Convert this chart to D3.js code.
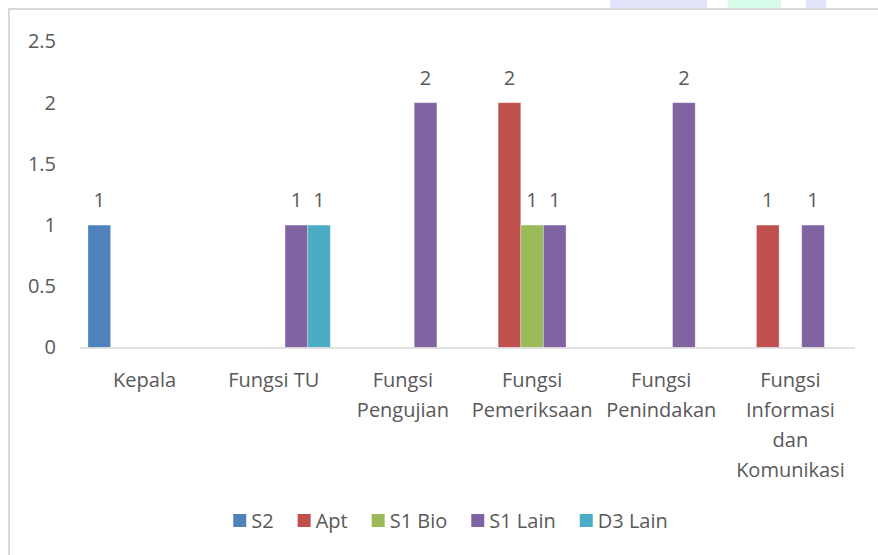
<!DOCTYPE html>
<html>
<head>
<meta charset="utf-8">
<script src="https://cdn.jsdelivr.net/npm/d3@7/dist/d3.min.js"></script>
<style>
  html, body { margin: 0; padding: 0; background: #fff; }
  svg { display: block; }
  text { font-family: "Open Sans", sans-serif; fill: #595959; }
</style>
</head>
<body>
<svg id="chart"></svg>
<script>
// Categories (each as its wrapped label lines)
const categories = ["Kepala", "Fungsi TU", "Fungsi Pengujian", "Fungsi Pemeriksaan", "Fungsi Penindakan", "Fungsi Informasi dan Komunikasi"];
const categoryLines = [
  ["Kepala"],
  ["Fungsi TU"],
  ["Fungsi", "Pengujian"],
  ["Fungsi", "Pemeriksaan"],
  ["Fungsi", "Penindakan"],
  ["Fungsi", "Informasi", "dan", "Komunikasi"]
];

// Series (null = no bar)
const seriesNames = ["S2", "Apt", "S1 Bio", "S1 Lain", "D3 Lain"];
const s2     = [1, null, null, null, null, null];
const apt    = [null, null, null, 2, null, 1];
const s1Bio  = [null, null, null, 1, null, null];
const s1Lain = [null, 1, 2, 1, 2, 1];
const d3Lain = [null, 1, null, null, null, null];
const seriesValues = [s2, apt, s1Bio, s1Lain, d3Lain];
const seriesColors = ["#4F81BD", "#C0504D", "#9BBB59", "#8064A2", "#4BACC6"];

const yTicks = [0, 0.5, 1, 1.5, 2, 2.5];

const W = 878, H = 555;
const fontSize = 20;
const svg = d3.select("#chart").attr("width", W).attr("height", H);

// Faint watermark shapes at the top edge
svg.append("rect").attr("x", 610).attr("y", 0).attr("width", 97).attr("height", 9).attr("fill", "#e2e2fa");
svg.append("rect").attr("x", 728).attr("y", 0).attr("width", 53).attr("height", 9).attr("fill", "#d6fbe9");
svg.append("rect").attr("x", 806).attr("y", 0).attr("width", 20).attr("height", 9).attr("fill", "#e2e2fa");

// Chart area border (only left and top visible)
svg.append("line").attr("x1", 9).attr("x2", 9).attr("y1", 9).attr("y2", H)
  .attr("stroke", "#d9d9d9").attr("stroke-width", 2);
svg.append("line").attr("x1", 8).attr("x2", W).attr("y1", 9).attr("y2", 9)
  .attr("stroke", "#d9d9d9").attr("stroke-width", 2);

// Plot area
const plot = { left: 80, right: 855, top: 41.5, bottom: 347.5 };

const x0 = d3.scaleBand()
  .domain(categories)
  .range([plot.left, plot.right])
  .paddingInner(0.124)
  .paddingOuter(0.062);

const x1 = d3.scaleBand()
  .domain(seriesNames)
  .range([0, x0.bandwidth()]);

const y = d3.scaleLinear()
  .domain([0, 2.5])
  .range([plot.bottom, plot.top]);

// Y axis labels
const yAxis = svg.append("g")
  .attr("transform", `translate(${plot.left - 24},0)`)
  .call(d3.axisLeft(y).tickValues(yTicks).tickSize(0).tickPadding(0)
    .tickFormat(d => String(d)));
yAxis.select(".domain").remove();
yAxis.selectAll("text")
  .attr("font-size", fontSize)
  .attr("font-family", "Open Sans, sans-serif")
  .attr("fill", "#595959");

// Bars
const bars = svg.append("g");
seriesValues.forEach((vals, si) => {
  const name = seriesNames[si];
  const data = categories.map((c, i) => ({ cat: c, v: vals[i] })).filter(d => d.v != null);
  bars.selectAll(null)
    .data(data)
    .join("rect")
    .attr("x", d => x0(d.cat) + x1(name))
    .attr("y", d => y(d.v))
    .attr("width", x1.bandwidth())
    .attr("height", d => y(0) - y(d.v))
    .attr("fill", seriesColors[si])
    .attr("stroke", "#ffffff")
    .attr("stroke-opacity", 0.35)
    .attr("stroke-width", 0.8);

  bars.selectAll(null)
    .data(data)
    .join("text")
    .attr("x", d => x0(d.cat) + x1(name) + x1.bandwidth() / 2)
    .attr("y", d => y(d.v) - 18)
    .attr("text-anchor", "middle")
    .attr("font-size", fontSize)
    .text(d => d3.format(".0f")(d.v));
});

// X axis line
svg.append("line")
  .attr("x1", plot.left).attr("x2", plot.right)
  .attr("y1", y(0) + 0.5).attr("y2", y(0) + 0.5)
  .attr("stroke", "#d9d9d9").attr("stroke-width", 1.5);

// Category labels
const catG = svg.append("g");
categories.forEach((c, i) => {
  const t = catG.append("text")
    .attr("x", x0(c) + x0.bandwidth() / 2)
    .attr("y", 387)
    .attr("text-anchor", "middle")
    .attr("font-size", fontSize);
  categoryLines[i].forEach((line, li) => {
    t.append("tspan")
      .attr("x", x0(c) + x0.bandwidth() / 2)
      .attr("dy", li === 0 ? 0 : 30)
      .text(line);
  });
});

// Legend
const legend = svg.append("g");
const legendY = 521;
let lx = 0;
seriesNames.forEach((name, i) => {
  const g = legend.append("g");
  g.append("rect")
    .attr("x", lx).attr("y", legendY - 7)
    .attr("width", 13).attr("height", 13)
    .attr("fill", seriesColors[i]);
  const t = g.append("text")
    .attr("x", lx + 18).attr("y", legendY + 7)
    .attr("font-size", fontSize)
    .text(name);
  const w = t.node().getComputedTextLength();
  lx += 18 + w + 24;
});
const legendWidth = lx - 24;
legend.attr("transform", `translate(${450.5 - legendWidth / 2},0)`);
</script>
</body>
</html>
